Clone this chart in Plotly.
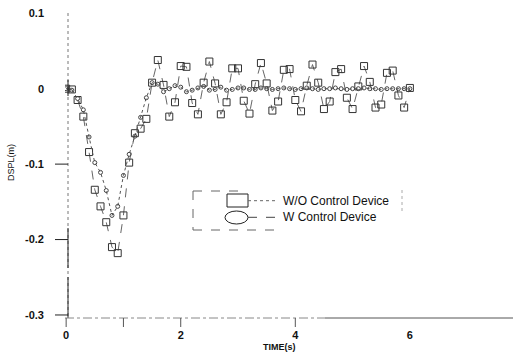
import plotly.graph_objects as go

time_s = [0.0, 0.1, 0.2, 0.3, 0.4, 0.5, 0.6, 0.7, 0.8, 0.9,
          1.0, 1.1, 1.2, 1.3, 1.4, 1.5, 1.6, 1.7, 1.8, 1.9,
          2.0, 2.1, 2.2, 2.3, 2.4, 2.5, 2.6, 2.7, 2.8, 2.9,
          3.0, 3.1, 3.2, 3.3, 3.4, 3.5, 3.6, 3.7, 3.8, 3.9,
          4.0, 4.1, 4.2, 4.3, 4.4, 4.5, 4.6, 4.7, 4.8, 4.9,
          5.0, 5.1, 5.2, 5.3, 5.4, 5.5, 5.6, 5.7, 5.8, 5.9, 6.0]

dspl_without = [0.000, -0.001, -0.015, -0.037, -0.084, -0.134, -0.156, -0.177, -0.210, -0.218,
                -0.168, -0.098, -0.059, -0.053, -0.040, 0.008, 0.038, 0.005, -0.037, -0.018,
                0.030, 0.029, -0.019, -0.034, 0.008, 0.036, 0.007, -0.034, -0.018, 0.027,
                0.027, -0.016, -0.033, 0.006, 0.034, 0.007, -0.029, -0.017, 0.025, 0.026,
                -0.015, -0.030, 0.004, 0.032, 0.008, -0.027, -0.017, 0.022, 0.026, -0.012,
                -0.027, 0.003, 0.030, 0.009, -0.025, -0.021, 0.021, 0.024, -0.009, -0.025, 0.001]

dspl_with = [0.000, -0.002, -0.013, -0.028, -0.064, -0.098, -0.111, -0.135, -0.168, -0.156,
             -0.115, -0.087, -0.063, -0.038, -0.012, 0.008, 0.006, -0.004, 0.000, 0.004,
             0.002, -0.004, -0.002, 0.001, 0.003, -0.002, -0.001, 0.002, -0.002, -0.001,
             0.001, 0.001, -0.001, -0.001, 0.001, 0.000, -0.001, 0.000, 0.001, 0.000,
             -0.001, 0.000, 0.001, 0.000, -0.001, 0.000, 0.000, 0.001, 0.000, -0.001,
             0.000, 0.000, 0.001, 0.000, 0.000, -0.001, 0.000, 0.000, 0.000, 0.000, 0.000]

x_ticks = [0, 2, 4, 6]
x_tick_labels = ["0", "2", "4", "6"]
y_ticks = [0.1, 0, -0.1, -0.2, -0.3]
y_tick_labels = ["0.1", "0", "-0.1", "-0.2", "-0.3"]
legend_names = ["W/O Control Device", "W Control Device"]

W, H = 522, 353
L, R, T, B = 65, 513, 11, 318


def px(xp):
    return (xp - L) / (R - L)


def py(yp):
    return (B - yp) / (B - T)


fig = go.Figure()
fig.add_trace(go.Scatter(
    x=time_s, y=dspl_without, mode="lines+markers", name=legend_names[0],
    line=dict(color="#666666", width=1, dash="dash"),
    marker=dict(symbol="square-open", size=7, color="#333333", line=dict(width=1)),
    showlegend=False))
fig.add_trace(go.Scatter(
    x=time_s, y=dspl_with, mode="lines+markers", name=legend_names[1],
    line=dict(color="#555555", width=1, dash="dot"),
    marker=dict(symbol="circle-open", size=4, color="#444444", line=dict(width=1)),
    showlegend=False))

shapes = []
# axis lines
shapes.append(dict(type="line", xref="paper", yref="paper", x0=px(68), x1=px(68), y0=py(13), y1=py(318),
                   line=dict(color="#777777", width=1, dash="dot")))
shapes.append(dict(type="line", xref="paper", yref="paper", x0=px(68), x1=px(68), y0=py(228), y1=py(268),
                   line=dict(color="#222222", width=1)))
shapes.append(dict(type="line", xref="paper", yref="paper", x0=px(68), x1=px(68), y0=py(277), y1=py(318),
                   line=dict(color="#222222", width=1)))
shapes.append(dict(type="line", xref="paper", yref="paper", x0=px(68), x1=px(68), y0=py(80), y1=py(96),
                   line=dict(color="#222222", width=1)))
shapes.append(dict(type="line", xref="paper", yref="paper", x0=px(65), x1=px(325), y0=py(318), y1=py(318),
                   line=dict(color="#888888", width=1, dash="dashdot")))
shapes.append(dict(type="line", xref="paper", yref="paper", x0=px(325), x1=px(513), y0=py(318), y1=py(318),
                   line=dict(color="#555555", width=1)))
# y ticks
for yv in [-0.1, -0.2, -0.3]:
    shapes.append(dict(type="line", xref="paper", yref="y", x0=px(55), x1=px(68), y0=yv, y1=yv,
                       line=dict(color="#222222", width=1)))
# x ticks
for xv in [0, 1, 2, 4]:
    shapes.append(dict(type="line", xref="x", yref="paper", x0=xv, x1=xv, y0=py(318), y1=py(327),
                       line=dict(color="#555555", width=1)))

# legend decoration
shapes.append(dict(type="line", xref="paper", yref="paper", x0=px(193), x1=px(193), y0=py(191), y1=py(230),
                   line=dict(color="#666666", width=1, dash="dash")))
shapes.append(dict(type="line", xref="paper", yref="paper", x0=px(193), x1=px(245), y0=py(191), y1=py(191),
                   line=dict(color="#666666", width=1, dash="dash")))
shapes.append(dict(type="line", xref="paper", yref="paper", x0=px(193), x1=px(275), y0=py(230), y1=py(230),
                   line=dict(color="#666666", width=1, dash="dash")))
shapes.append(dict(type="line", xref="paper", yref="paper", x0=px(402), x1=px(402), y0=py(190), y1=py(212),
                   line=dict(color="#aaaaaa", width=1, dash="dot")))
shapes.append(dict(type="rect", xref="paper", yref="paper", x0=px(227), x1=px(248), y0=py(207), y1=py(194),
                   line=dict(color="#222222", width=1)))
shapes.append(dict(type="circle", xref="paper", yref="paper", x0=px(225), x1=px(248), y0=py(224), y1=py(211),
                   line=dict(color="#222222", width=1)))
shapes.append(dict(type="line", xref="paper", yref="paper", x0=px(248), x1=px(276), y0=py(200.7), y1=py(200.7),
                   line=dict(color="#666666", width=1, dash="dot")))
shapes.append(dict(type="line", xref="paper", yref="paper", x0=px(248), x1=px(276), y0=py(217.3), y1=py(217.3),
                   line=dict(color="#444444", width=1, dash="dash")))

annotations = [
    dict(xref="paper", yref="paper", x=px(281), y=py(200.7), text=legend_names[0], showarrow=False,
         xanchor="left", yanchor="middle", font=dict(family="Liberation Sans", size=12, color="#111111")),
    dict(xref="paper", yref="paper", x=px(281), y=py(217.3), text=legend_names[1], showarrow=False,
         xanchor="left", yanchor="middle", font=dict(family="Liberation Sans", size=12, color="#111111")),
    dict(xref="paper", yref="paper", x=px(11), y=py(163), text="DSPL(m)", textangle=-90, showarrow=False,
         xanchor="center", yanchor="middle", font=dict(family="Liberation Sans", size=9, color="#111111")),
    dict(xref="paper", yref="paper", x=px(279), y=py(347), text="<b>TIME(s)</b>", showarrow=False,
         xanchor="center", yanchor="middle", font=dict(family="Liberation Sans", size=9, color="#111111")),
]

fig.update_layout(
    width=W, height=H,
    margin=dict(l=L, r=W - R, t=T, b=H - B, autoexpand=False),
    paper_bgcolor="white", plot_bgcolor="white",
    shapes=shapes, annotations=annotations,
    xaxis=dict(range=[-0.02, 7.8], tickmode="array", tickvals=x_ticks, ticktext=x_tick_labels,
               showgrid=False, zeroline=False, showline=False, ticks="", ticklabelstandoff=9,
               automargin=False,
               tickfont=dict(family="Liberation Sans", size=11, color="#111111", weight="bold")),
    yaxis=dict(range=[-0.304, 0.103], tickmode="array", tickvals=y_ticks, ticktext=y_tick_labels,
               showgrid=False, zeroline=False, showline=False, ticks="", ticklabelstandoff=20,
               automargin=False,
               tickfont=dict(family="Liberation Sans", size=11, color="#111111", weight="bold")),
)

fig.write_html("out.html", config={"displayModeBar": False},
               post_script="document.body.style.margin='0';document.body.style.overflow='hidden';")
